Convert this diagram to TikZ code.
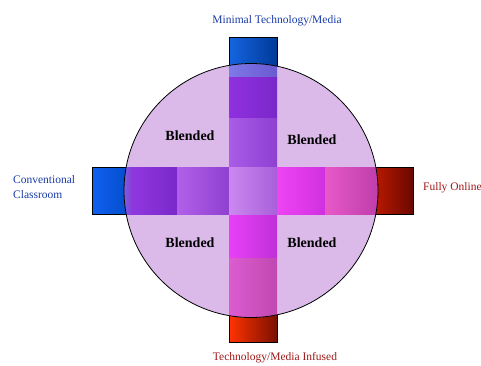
\documentclass[tikz,border=0pt]{standalone}
\usepackage{fontspec}
\setmainfont{Liberation Serif}
\begin{document}
\begin{tikzpicture}[x=1pt,y=-1pt,
  edgebox/.style={draw=black,line width=0.8pt},
  seg/.style={draw=none},
  blend/.style={font=\fontsize{14}{16}\selectfont\bfseries,text=black,inner sep=0pt},
  bluelab/.style={font=\fontsize{11.5}{15}\selectfont,text=labblue,inner sep=0pt},
  redlab/.style={font=\fontsize{11.5}{15}\selectfont,text=labred,inner sep=0pt}]
\definecolor{labblue}{HTML}{1A3CA8}
\definecolor{labred}{HTML}{A01818}
\definecolor{circfill}{HTML}{DBBAE9}
\useasboundingbox (0,0) rectangle (481,365);
\fill[white] (0,0) rectangle (481,365);
% outer boxes
\shade[left color={rgb,255:red,21;green,101;blue,224}, right color={rgb,255:red,0;green,58;blue,152}] (229,37) rectangle (277,90);
\draw[edgebox] (229,90) -- (229,37) -- (277,37) -- (277,90);
\shade[left color={rgb,255:red,16;green,96;blue,240}, right color={rgb,255:red,0;green,72;blue,192}] (92,167) rectangle (140,214);
\draw[edgebox] (140,167) -- (92,167) -- (92,214) -- (140,214);
\shade[left color={rgb,255:red,216;green,32;blue,0}, right color={rgb,255:red,106;green,8;blue,0}] (360,167) rectangle (413,214);
\draw[edgebox] (360,167) -- (413,167) -- (413,214) -- (360,214);
\shade[left color={rgb,255:red,255;green,51;blue,0}, right color={rgb,255:red,122;green,16;blue,0}] (229,300) rectangle (277,342);
\draw[edgebox] (229,300) -- (229,342) -- (277,342) -- (277,300);
% circle
\fill[circfill] (251,190.5) circle [radius=127pt];
\begin{scope}
\clip (251,190.5) circle [radius=127pt];
% vertical bar
\shade[left color={rgb,255:red,126;green,120;blue,232}, right color={rgb,255:red,106;green,90;blue,208}] (229,60) rectangle (277,77);
\shade[left color={rgb,255:red,144;green,48;blue,224}, right color={rgb,255:red,122;green,40;blue,200}] (229,77) rectangle (277,118);
\shade[left color={rgb,255:red,168;green,92;blue,232}, right color={rgb,255:red,142;green,64;blue,208}] (229,118) rectangle (277,167);
\shade[left color={rgb,255:red,204;green,136;blue,240}, right color={rgb,255:red,168;green,96;blue,216}] (229,167) rectangle (277,214);
\shade[left color={rgb,255:red,232;green,64;blue,248}, right color={rgb,255:red,192;green,48;blue,216}] (229,214) rectangle (277,258);
\shade[left color={rgb,255:red,220;green,92;blue,208}, right color={rgb,255:red,192;green,72;blue,176}] (229,258) rectangle (277,320);
% horizontal bar
\shade[left color={rgb,255:red,110;green,110;blue,230}, right color={rgb,255:red,138;green,64;blue,216}] (120,167) rectangle (131,214);
\shade[left color={rgb,255:red,144;green,56;blue,224}, right color={rgb,255:red,122;green,40;blue,200}] (131,167) rectangle (177,214);
\shade[left color={rgb,255:red,176;green,96;blue,232}, right color={rgb,255:red,144;green,64;blue,208}] (177,167) rectangle (229,214);
\shade[left color={rgb,255:red,238;green,68;blue,244}, right color={rgb,255:red,208;green,48;blue,224}] (277,167) rectangle (325,214);
\shade[left color={rgb,255:red,232;green,88;blue,200}, right color={rgb,255:red,184;green,58;blue,168}] (325,167) rectangle (385,214);
% redraw centre
\shade[left color={rgb,255:red,204;green,136;blue,240}, right color={rgb,255:red,168;green,96;blue,216}] (229,167) rectangle (277,214);
\end{scope}
\draw[black,line width=0.8pt] (251,190.5) circle [radius=127pt];
% labels
\node[blend] (b1) at (190,136) {Blended};
\node[blend] (b2) at (312,140) {Blended};
\node[blend] (b3) at (190,243) {Blended};
\node[blend] (b4) at (312,243) {Blended};
\node[bluelab] (top) at (277,21) {Minimal Technology/Media};
\node[bluelab,anchor=west,align=left] (left) at (13,187) {Conventional\\Classroom};
\node[redlab,anchor=west] (right) at (423,188) {Fully Online};
\node[redlab] (bottom) at (275,358) {Technology/Media Infused};
\end{tikzpicture}
\end{document}
